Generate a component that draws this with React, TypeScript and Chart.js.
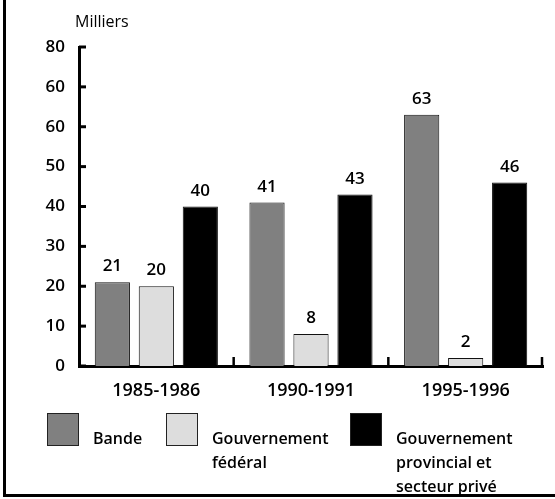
import { useEffect, useRef } from "react";
import { Chart, registerables } from "chart.js";

Chart.register(...registerables);

const categories = ["1985-1986", "1990-1991", "1995-1996"];
const bandeValues = [21, 41, 63];
const federalValues = [20, 8, 2];
const provincialValues = [40, 43, 46];
const seriesLabels = [
  ["Bande"],
  ["Gouvernement", "fédéral"],
  ["Gouvernement", "provincial et", "secteur privé"],
];
const yTickLabels = ["0", "10", "20", "30", "40", "50", "60", "60", "80"];
const unitLabel = "Milliers";

const FONT = "'Open Sans', 'DejaVu Sans', sans-serif";
const COLORS = ["#808080", "#dddddd", "#000000"];
const LEGEND_X = [47, 166, 350];

const decor = {
  id: "decor",
  afterDraw(chart: any) {
    const { ctx, chartArea } = chart;
    const xs = chart.scales.x;
    const ys = chart.scales.y;
    ctx.save();
    ctx.fillStyle = "#000";
    ctx.strokeStyle = "#000";
    // frame
    ctx.fillRect(3, 0, 3, 497);
    ctx.fillRect(3, 494, 552, 3);

    // y ticks (inside)
    ctx.lineWidth = 3;
    ys.ticks.forEach((t: any) => {
      const py = ys.getPixelForValue(t.value);
      ctx.beginPath();
      ctx.moveTo(chartArea.left, py);
      ctx.lineTo(chartArea.left + 7, py);
      ctx.stroke();
    });

    // x category boundary ticks (upwards)
    const half = (xs.getPixelForValue(1) - xs.getPixelForValue(0)) / 2;
    ctx.lineWidth = 2.5;
    for (let i = 0; i < categories.length; i++) {
      const px = Math.min(xs.getPixelForValue(i) + half, chartArea.right - 1);
      ctx.beginPath();
      ctx.moveTo(px, chartArea.bottom);
      ctx.lineTo(px, chartArea.bottom - 9);
      ctx.stroke();
    }

    // unit label
    ctx.font = `400 16px ${FONT}`;
    ctx.textAlign = "left";
    ctx.textBaseline = "middle";
    ctx.fillText(unitLabel, 75, 22);

    // value labels
    ctx.font = `600 17px ${FONT}`;
    ctx.textAlign = "center";
    ctx.textBaseline = "alphabetic";
    chart.data.datasets.forEach((ds: any, di: number) => {
      chart.getDatasetMeta(di).data.forEach((bar: any, i: number) => {
        ctx.fillText(String(ds.data[i]), bar.x, bar.y - 11);
      });
    });

    // legend
    ctx.font = `600 16px ${FONT}`;
    ctx.textAlign = "left";
    ctx.textBaseline = "middle";
    chart.data.datasets.forEach((ds: any, di: number) => {
      const bx = LEGEND_X[di];
      const by = 413;
      ctx.fillStyle = ds.backgroundColor;
      ctx.fillRect(bx, by, 32, 33);
      ctx.lineWidth = 1;
      ctx.strokeStyle = "#222";
      ctx.strokeRect(bx + 0.5, by + 0.5, 31, 32);
      ctx.fillStyle = "#000";
      seriesLabels[di].forEach((line, li) => {
        ctx.fillText(line, bx + 32 + 14, 439 + li * 24);
      });
    });
    ctx.restore();
  },
};

export default function App() {
  const ref = useRef<HTMLCanvasElement>(null);
  useEffect(() => {
    if (!ref.current) return;
    const chart = new Chart(ref.current, {
      type: "bar",
      data: {
        labels: categories,
        datasets: [bandeValues, federalValues, provincialValues].map((vals, i) => ({
          label: seriesLabels[i].join(" "),
          data: vals,
          backgroundColor: COLORS[i],
          borderColor: "#111",
          borderWidth: 1,
          borderSkipped: "bottom",
          categoryPercentage: 0.853,
          barPercentage: 0.8,
        })),
      },
      options: {
        responsive: false,
        animation: false,
        layout: { padding: { top: 47, right: 12, left: 0, bottom: 0 } },
        plugins: { legend: { display: false }, tooltip: { enabled: false } },
        scales: {
          x: {
            z: 1,
            grid: { display: false, drawTicks: false },
            border: { display: true, width: 3, color: "#000" },
            ticks: {
              color: "#000",
              padding: 14,
              font: { family: FONT, size: 18, weight: 600 },
            },
            afterFit: (s: any) => {
              s.height = 133;
            },
          },
          y: {
            z: 1,
            min: 0,
            max: 80,
            grid: { display: false, drawTicks: false },
            border: { display: true, width: 3, color: "#000" },
            ticks: {
              stepSize: 10,
              color: "#000",
              padding: 14,
              font: { family: FONT, size: 17, weight: 600 },
              callback: (_v: any, i: number) => yTickLabels[i],
            },
            afterFit: (s: any) => {
              s.width = 79;
            },
          },
        },
      },
      plugins: [decor],
    });
    return () => chart.destroy();
  }, []);
  return (
    <div style={{ position: "absolute", left: 0, top: 0, width: 555, height: 499, background: "#fff" }}>
      <canvas ref={ref} width={555} height={499} style={{ display: "block" }} />
    </div>
  );
}
